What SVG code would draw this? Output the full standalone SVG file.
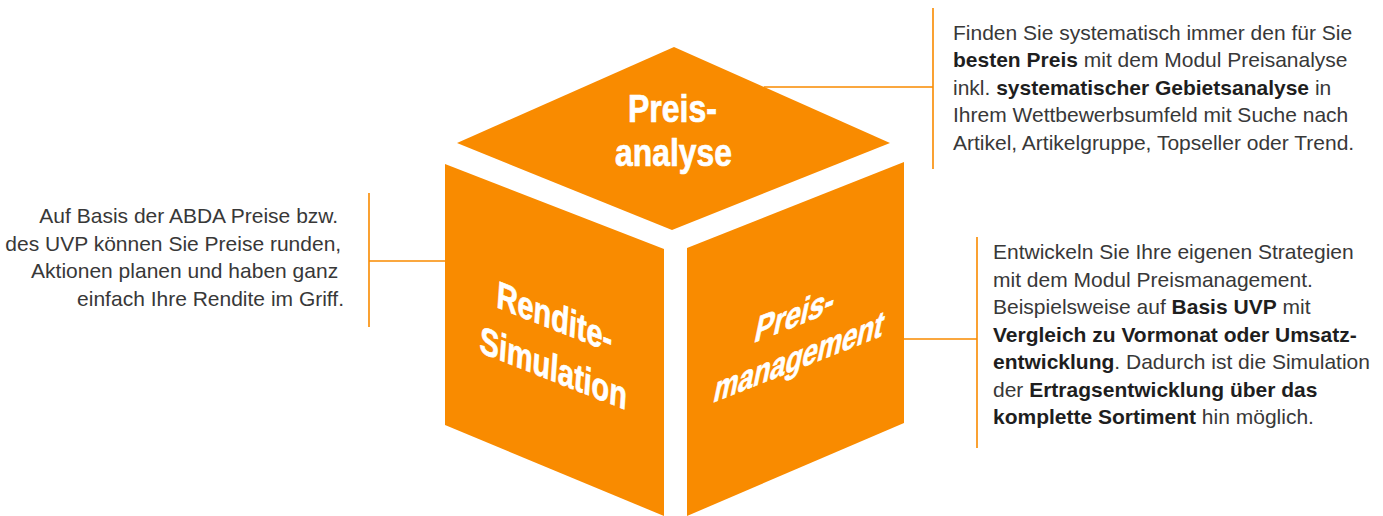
<svg xmlns="http://www.w3.org/2000/svg" width="1383" height="516" viewBox="0 0 1383 516">
<style>
.face{fill:#F98B00}
.cube{font-family:"Liberation Sans","Arial",sans-serif;font-weight:bold;font-size:38px;fill:#FFFFFF;stroke:#FFFFFF;stroke-width:0.7}
.body{font-family:"Liberation Sans","Arial",sans-serif;font-size:21px;fill:#383838}
.b{font-weight:bold;fill:#1e1e1e}
.conn{stroke:#F98B00;stroke-width:1.6;fill:none}
</style>
<rect width="1383" height="516" fill="#FFFFFF"/>
<g id="connectors">
<path class="conn" d="M933 8V169M764 87H933"/>
<path class="conn" d="M977 237V448M904 339H977"/>
<path class="conn" d="M369 193V327M369 261H445"/>
</g>
<g id="preisanalyse">
<polygon class="face" points="674,47 890,143 672,230 457,143"/>
<text class="cube" x="628" y="122" textLength="89" lengthAdjust="spacingAndGlyphs">Preis-</text>
<text class="cube" x="615" y="166" textLength="117" lengthAdjust="spacingAndGlyphs">analyse</text>
</g>
<g id="rendite-simulation">
<polygon class="face" points="445,164 664,249 664,516 445,425"/>
<text class="cube" transform="matrix(0.930 0.367 -0.07 1 496 307)" textLength="124" lengthAdjust="spacingAndGlyphs">Rendite-</text>
<text class="cube" transform="matrix(0.930 0.367 -0.07 1 479 352)" textLength="158" lengthAdjust="spacingAndGlyphs">Simulation</text>
</g>
<g id="preismanagement">
<polygon class="face" points="687,248 904,162 904,423 687,516"/>
<text class="cube" transform="matrix(0.930 -0.367 -0.21 1 753 343)" textLength="85" lengthAdjust="spacingAndGlyphs">Preis-</text>
<text class="cube" transform="matrix(0.930 -0.367 -0.21 1 712 403)" textLength="182" lengthAdjust="spacingAndGlyphs">management</text>
</g>
<g id="text-preisanalyse">
<text class="body" x="953">
<tspan x="953" y="39.5">Finden Sie systematisch immer den für Sie</tspan>
<tspan x="953" y="67"><tspan class="b">besten Preis</tspan> mit dem Modul Preisanalyse</tspan>
<tspan x="953" y="94.5">inkl. <tspan class="b">systematischer Gebietsanalyse</tspan> in</tspan>
<tspan x="953" y="122">Ihrem Wettbewerbsumfeld mit Suche nach</tspan>
<tspan x="953" y="149.5">Artikel, Artikelgruppe, Topseller oder Trend.</tspan>
</text>
</g>
<g id="text-rendite">
<text class="body" text-anchor="end">
<tspan x="344" y="223">Auf Basis der ABDA Preise bzw.</tspan>
<tspan x="347" y="250.5">des UVP können Sie Preise runden,</tspan>
<tspan x="344" y="278">Aktionen planen und haben ganz</tspan>
<tspan x="344" y="305.5">einfach Ihre Rendite im Griff.</tspan>
</text>
</g>
<g id="text-preismanagement">
<text class="body">
<tspan x="993" y="259.3">Entwickeln Sie Ihre eigenen Strategien</tspan>
<tspan x="993" y="286.8">mit dem Modul Preismanagement.</tspan>
<tspan x="993" y="314.3">Beispielsweise auf <tspan class="b">Basis UVP</tspan> mit</tspan>
<tspan x="993" y="341.8" class="b">Vergleich zu Vormonat oder Umsatz-</tspan>
<tspan x="993" y="369.3"><tspan class="b">entwicklung</tspan>. Dadurch ist die Simulation</tspan>
<tspan x="993" y="396.8">der <tspan class="b">Ertragsentwicklung über das</tspan></tspan>
<tspan x="993" y="424.3"><tspan class="b">komplette Sortiment</tspan> hin möglich.</tspan>
</text>
</g>
</svg>
